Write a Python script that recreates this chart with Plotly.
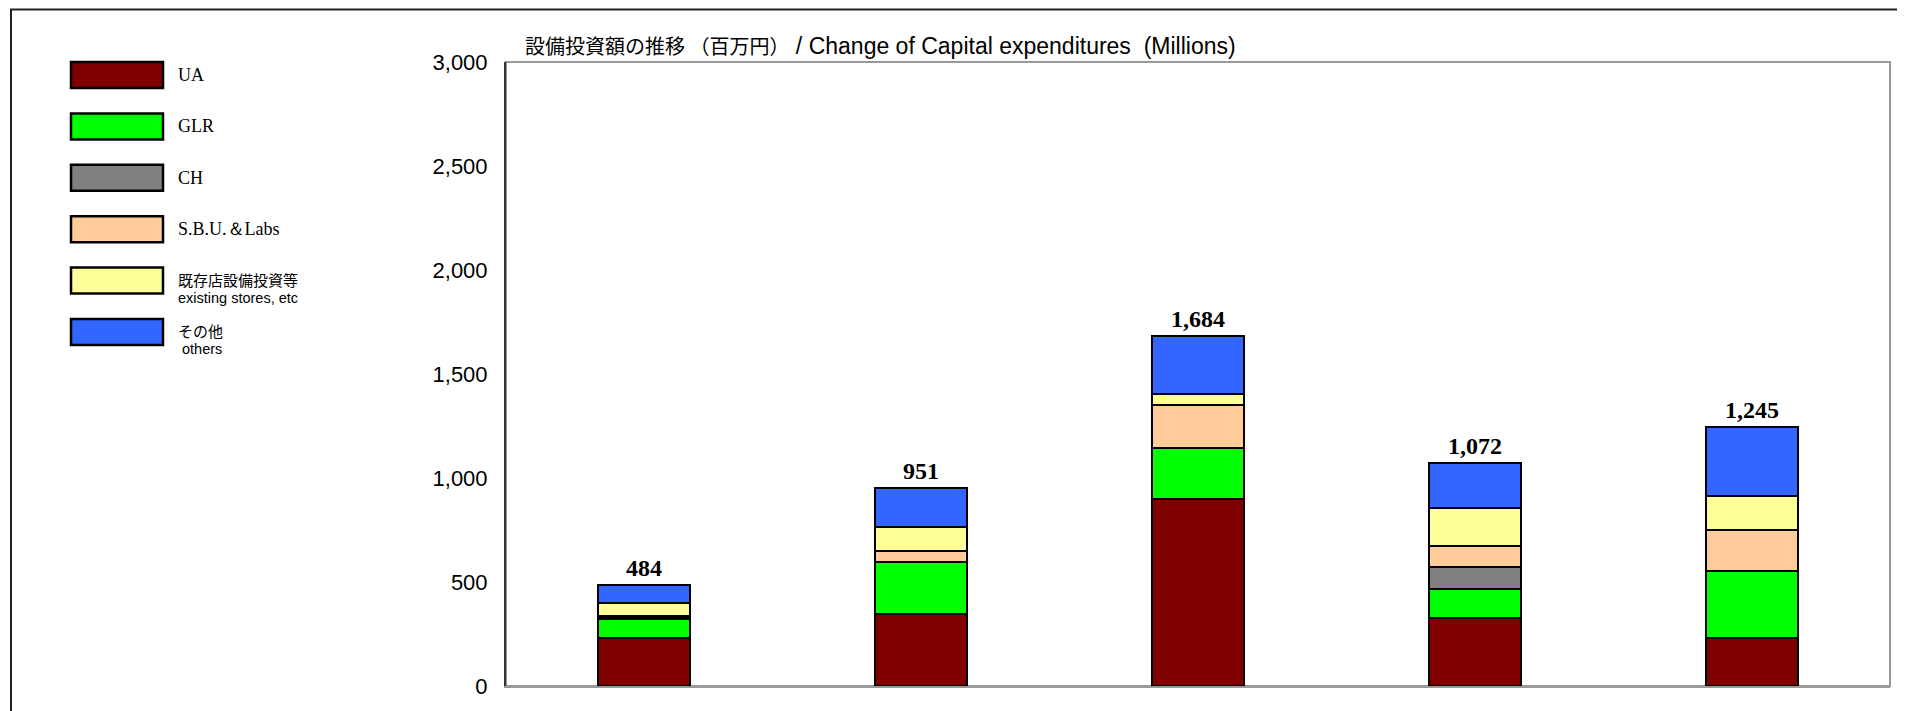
import plotly.graph_objects as go

# ---- data (millions of yen) ----
periods = ["P1", "P2", "P3", "P4", "P5"]
series_names = ["UA", "GLR", "CH", "S.B.U.＆Labs", "既存店設備投資等", "その他"]
series_sub = ["", "", "", "", "existing stores, etc", " others"]
ua = [232, 345, 898, 325, 232]
glr = [92, 251, 245, 140, 322]
ch = [6, 0, 0, 109, 0]
sbu = [7, 53, 208, 99, 197]
existing = [63, 114, 51, 181, 164]
others = [84, 188, 282, 218, 330]
totals = [484, 951, 1684, 1072, 1245]
y_ticks = [0, 500, 1000, 1500, 2000, 2500, 3000]

colors = ["#800000", "#00FF00", "#808080", "#FFCC99", "#FFFF99", "#3366FF"]
values = [ua, glr, ch, sbu, existing, others]

OFF = 8  # page body margin
W, H = 1905 - OFF, 711 - OFF
# plot area in screen pixels
PL, PR, PT, PB = 506, 1890, 62, 686


def px(x):
    return (x - PL) / (PR - PL)


def py(y):
    return (PB - y) / (PB - PT)


fig = go.Figure()
for name, vals, col in zip(series_names, values, colors):
    fig.add_trace(go.Bar(
        x=periods, y=vals, name=name,
        marker=dict(color=col, line=dict(color="#000000", width=2)),
        showlegend=False, hoverinfo="x+y+name",
    ))

# total labels
for cat, tot in zip(periods, totals):
    fig.add_annotation(
        x=cat, y=tot, xref="x", yref="y", text=f"<b>{tot:,}</b>", showarrow=False,
        yanchor="middle", yshift=17,
        font=dict(family="Liberation Serif, Times New Roman, serif", size=24, color="#000000"),
    )

shapes = []
# outer frame
shapes.append(dict(type="rect", xref="paper", yref="paper",
                   x0=px(11), x1=px(1904), y0=py(760), y1=py(9.5),
                   line=dict(color="#222222", width=2), fillcolor="rgba(0,0,0,0)", layer="below"))
# plot-area border
shapes.append(dict(type="rect", xref="paper", yref="paper",
                   x0=0, x1=1, y0=0, y1=1,
                   line=dict(color="#999999", width=2), fillcolor="rgba(0,0,0,0)", layer="below"))

# custom legend
box_l, box_r, box_h, first_top, step = 71, 163, 26, 62, 51.4
for i, (name, sub, col) in enumerate(zip(series_names, series_sub, colors)):
    top = first_top + i * step
    shapes.append(dict(type="rect", xref="paper", yref="paper",
                       x0=px(box_l), x1=px(box_r), y0=py(top + box_h), y1=py(top),
                       line=dict(color="#000000", width=2.5), fillcolor=col))
    if sub:
        fig.add_annotation(x=px(176), y=py(top + 11.5), xref="paper", yref="paper",
                           text=name, showarrow=False, xanchor="left", yanchor="middle",
                           font=dict(family="Noto Sans CJK JP, sans-serif", size=15, color="#000"))
        fig.add_annotation(x=px(176), y=py(top + 30), xref="paper", yref="paper",
                           text=sub.replace(" ", "&nbsp;", 1) if sub.startswith(" ") else sub,
                           showarrow=False, xanchor="left", yanchor="middle",
                           font=dict(family="Liberation Sans, Arial, sans-serif", size=14.5, color="#000"))
    else:
        fig.add_annotation(x=px(176), y=py(top + box_h / 2), xref="paper", yref="paper",
                           text=name, showarrow=False, xanchor="left", yanchor="middle",
                           font=dict(family="Liberation Serif, Times New Roman, serif", size=18, color="#000"))

# title
title_ja = "設備投資額の推移 （百万円）"
title_en = " / Change of Capital expenditures  (Millions)"
fig.add_annotation(x=px(523), y=py(45), xref="paper", yref="paper",
                   text=(f"<span style='font-family:Noto Sans CJK JP;font-size:20px'>{title_ja}</span>"
                         f"<span style='font-family:Liberation Sans, Arial;font-size:23px'>{title_en}</span>"),
                   showarrow=False, xanchor="left", yanchor="middle",
                   font=dict(family="Liberation Sans, Arial, sans-serif", size=22, color="#000"))

fig.update_layout(
    width=W, height=H,
    margin=dict(l=PL - OFF, r=(1905 - PR), t=PT - OFF, b=711 - PB, pad=0),
    barmode="stack", bargap=0.667,
    plot_bgcolor="#FFFFFF", paper_bgcolor="#FFFFFF",
    shapes=shapes, showlegend=False,
    xaxis=dict(type="category", showticklabels=False, showgrid=False, zeroline=False, ticks="",
               showline=True, linecolor="#999999", linewidth=2),
    yaxis=dict(range=[0, 3000], tickvals=y_ticks, tickformat=",", showgrid=False, zeroline=False,
               showline=True, linecolor="#333333", linewidth=2, ticks="",
               ticklabelstandoff=12,
               tickfont=dict(family="Liberation Sans, Arial, sans-serif", size=22, color="#000")),
)

fig.write_html("out.html")
